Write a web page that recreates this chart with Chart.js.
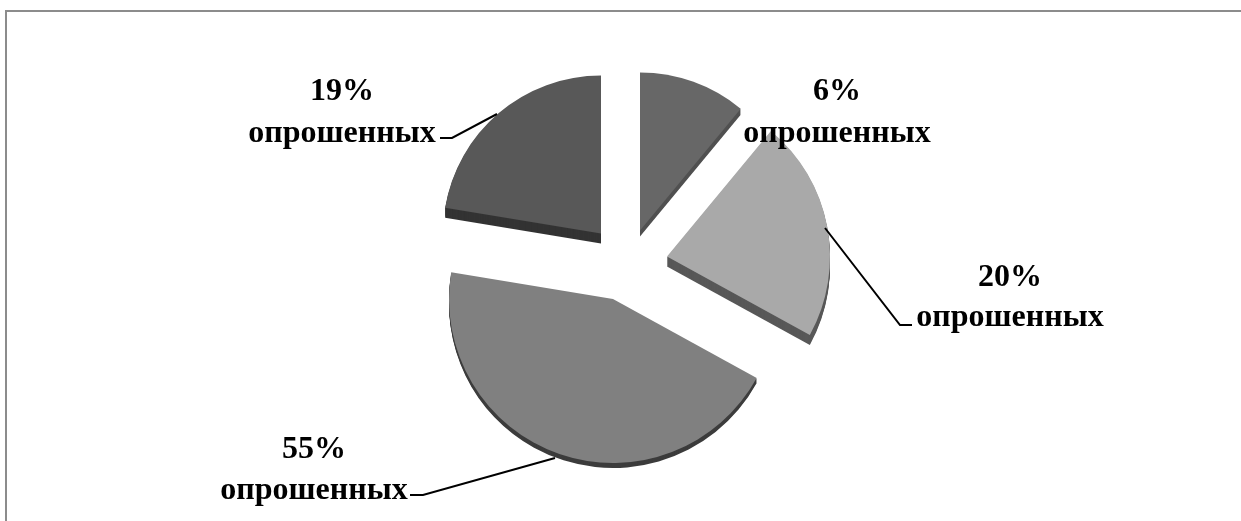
<!DOCTYPE html>
<html lang="ru">
<head>
    <meta charset="UTF-8">
    <title>Опрошенные</title>
    <script src="https://cdn.jsdelivr.net/npm/chart.js"></script>
    <style>
        html, body { margin: 0; padding: 0; background: #fff; overflow: hidden; }
        #wrap { position: relative; width: 1241px; height: 521px; }
        #frame { position: absolute; left: 5px; top: 10px; right: 0; bottom: 0; border-left: 2px solid #8c8c8c; border-top: 2px solid #8c8c8c; }
        canvas { position: absolute; left: 0; top: 0; }
    </style>
</head>
<body>
    <div id="wrap">
        <div id="frame"></div>
        <canvas id="pie" width="1241" height="521"></canvas>
    </div>

    <script>
        // slice sizes as drawn (they do not follow the printed percentages in the source)
        const sliceShares = [11, 22, 44.6, 22.4];
        const percentLabels = ['6%', '20%', '55%', '19%'];
        const unitLabel = 'опрошенных';
        const sliceColors = ['#676767', '#a9a9a9', '#808080', '#585858'];
        const rimColors = ['#505050', '#585858', '#3c3c3c', '#333333'];

        // exploded look: shift of each slice from the pie centre, its radius and rim height
        const sliceShift = [[13, -34], [40, -8], [-14, 34.5], [-26, -31]];
        const sliceRadius = [158, 163, 164, 158];
        const rimDepth = [6, 10, 5, 10];

        const labelPos = [[837, 92, 134], [1010, 278, 318], [314, 450, 491], [342, 92, 134]];
        const leaders = [
            null,
            [[825, 228], [900, 325], [912, 325]],
            [[555, 458], [423, 495], [410, 495]],
            [[497, 114], [452, 138], [440, 138]]
        ];

        // move the arcs after the library has laid them out
        const explodePlugin = {
            id: 'explode',
            afterDatasetsUpdate(chart) {
                chart.getDatasetMeta(0).data.forEach((arc, i) => {
                    arc.x += sliceShift[i][0];
                    arc.y += sliceShift[i][1];
                    arc.outerRadius = sliceRadius[i];
                });
            },
            beforeDatasetsDraw(chart) {
                const ctx = chart.ctx;
                chart.getDatasetMeta(0).data.forEach((arc, i) => {
                    ctx.fillStyle = rimColors[i];
                    for (let d = rimDepth[i]; d > 0; d--) {
                        ctx.beginPath();
                        ctx.moveTo(arc.x, arc.y + d);
                        ctx.arc(arc.x, arc.y + d, arc.outerRadius, arc.startAngle, arc.endAngle);
                        ctx.closePath();
                        ctx.fill();
                    }
                });
            }
        };

        const labelPlugin = {
            id: 'labels',
            afterDatasetsDraw(chart) {
                const ctx = chart.ctx;
                ctx.save();
                ctx.strokeStyle = '#000';
                ctx.lineWidth = 2;
                leaders.forEach(pts => {
                    if (!pts) return;
                    ctx.beginPath();
                    pts.forEach((p, k) => k ? ctx.lineTo(p[0], p[1]) : ctx.moveTo(p[0], p[1]));
                    ctx.stroke();
                });
                ctx.fillStyle = '#000';
                ctx.font = 'bold 32px "Liberation Serif"';
                ctx.textAlign = 'center';
                ctx.textBaseline = 'middle';
                percentLabels.forEach((t, i) => {
                    const [x, y1, y2] = labelPos[i];
                    ctx.fillText(t, x, y1);
                    ctx.fillText(unitLabel, x, y2);
                });
                ctx.restore();
            }
        };

        new Chart(document.getElementById('pie').getContext('2d'), {
            type: 'pie',
            data: {
                labels: percentLabels,
                datasets: [{
                    data: sliceShares,
                    backgroundColor: sliceColors,
                    borderWidth: 0
                }]
            },
            options: {
                responsive: false,
                animation: false,
                radius: 163,
                layout: { padding: { left: 13, top: 8 } },
                plugins: { legend: { display: false }, tooltip: { enabled: false } }
            },
            plugins: [explodePlugin, labelPlugin]
        });
    </script>
</body>
</html>
